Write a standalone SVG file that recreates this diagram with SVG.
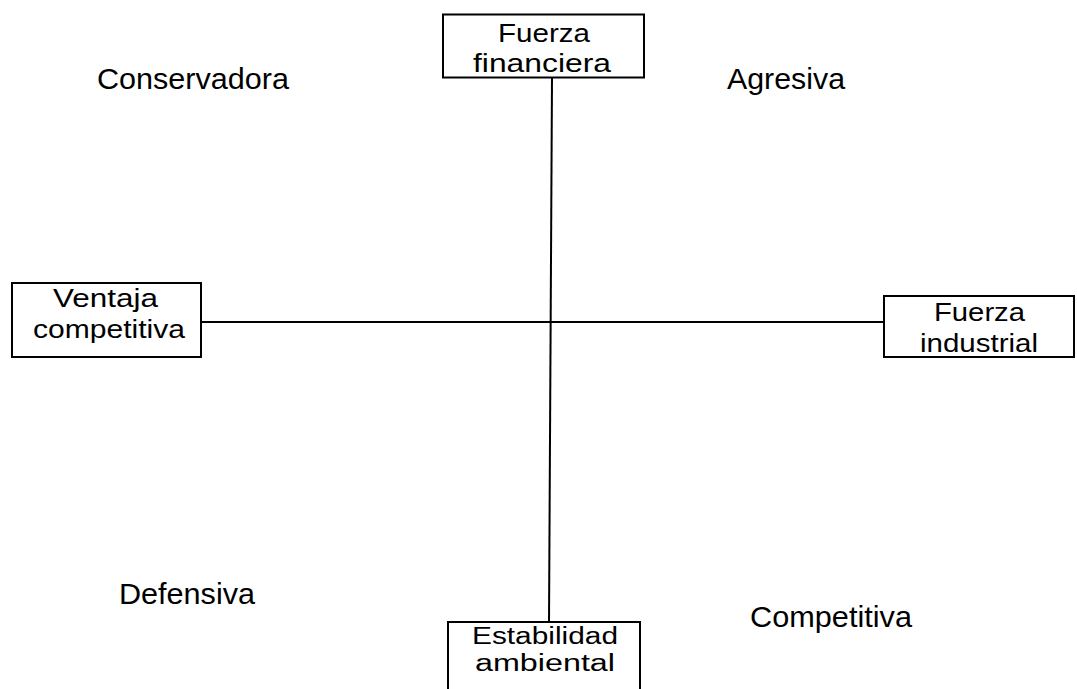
<svg xmlns="http://www.w3.org/2000/svg" width="1077" height="689" viewBox="0 0 1077 689">
  <style>
    .box { fill: #ffffff; stroke: #000000; stroke-width: 2; }
    .axis { stroke: #000000; stroke-width: 2; fill: none; }
    .lbl { font-family: "Liberation Sans", Arial, sans-serif; font-size: 26px; fill: #000000; }
    .lbl-sm { font-family: "Liberation Sans", Arial, sans-serif; font-size: 23px; fill: #000000; }
    .quad { font-family: "Liberation Sans", Arial, sans-serif; font-size: 29px; fill: #000000; }
  </style>
  <rect width="1077" height="689" fill="#ffffff"/>

  <!-- axes -->
  <g id="connectors">
    <line class="axis" x1="552" y1="78" x2="549" y2="622"/>
    <line class="axis" x1="201" y1="322" x2="884" y2="322"/>
  </g>

  <g id="fuerza-financiera">
    <rect class="box" x="443" y="14.5" width="201" height="63"/>
    <text class="lbl" x="498" y="42" textLength="92" lengthAdjust="spacingAndGlyphs">Fuerza</text>
    <text class="lbl" x="473" y="72" textLength="138" lengthAdjust="spacingAndGlyphs">financiera</text>
  </g>

  <g id="ventaja-competitiva">
    <rect class="box" x="12" y="283" width="189" height="74"/>
    <text class="lbl" x="53" y="307" textLength="105" lengthAdjust="spacingAndGlyphs">Ventaja</text>
    <text class="lbl" x="33" y="338" textLength="152" lengthAdjust="spacingAndGlyphs">competitiva</text>
  </g>

  <g id="fuerza-industrial">
    <rect class="box" x="884" y="296" width="190" height="61"/>
    <text class="lbl" x="934" y="321" textLength="91" lengthAdjust="spacingAndGlyphs">Fuerza</text>
    <text class="lbl" x="920" y="352" textLength="118" lengthAdjust="spacingAndGlyphs">industrial</text>
  </g>

  <g id="estabilidad-ambiental">
    <rect class="box" x="448" y="622" width="192" height="80"/>
    <text class="lbl-sm" x="472" y="644" textLength="146" lengthAdjust="spacingAndGlyphs">Estabilidad</text>
    <text class="lbl-sm" x="475" y="671" textLength="140" lengthAdjust="spacingAndGlyphs">ambiental</text>
  </g>

  <!-- quadrant names -->
  <g id="quadrants">
    <text class="quad" x="97" y="89" textLength="192" lengthAdjust="spacingAndGlyphs">Conservadora</text>
    <text class="quad" x="727" y="89" textLength="118" lengthAdjust="spacingAndGlyphs">Agresiva</text>
    <text class="quad" x="119" y="604" textLength="136" lengthAdjust="spacingAndGlyphs">Defensiva</text>
    <text class="quad" x="750" y="627" textLength="162" lengthAdjust="spacingAndGlyphs">Competitiva</text>
  </g>
</svg>
